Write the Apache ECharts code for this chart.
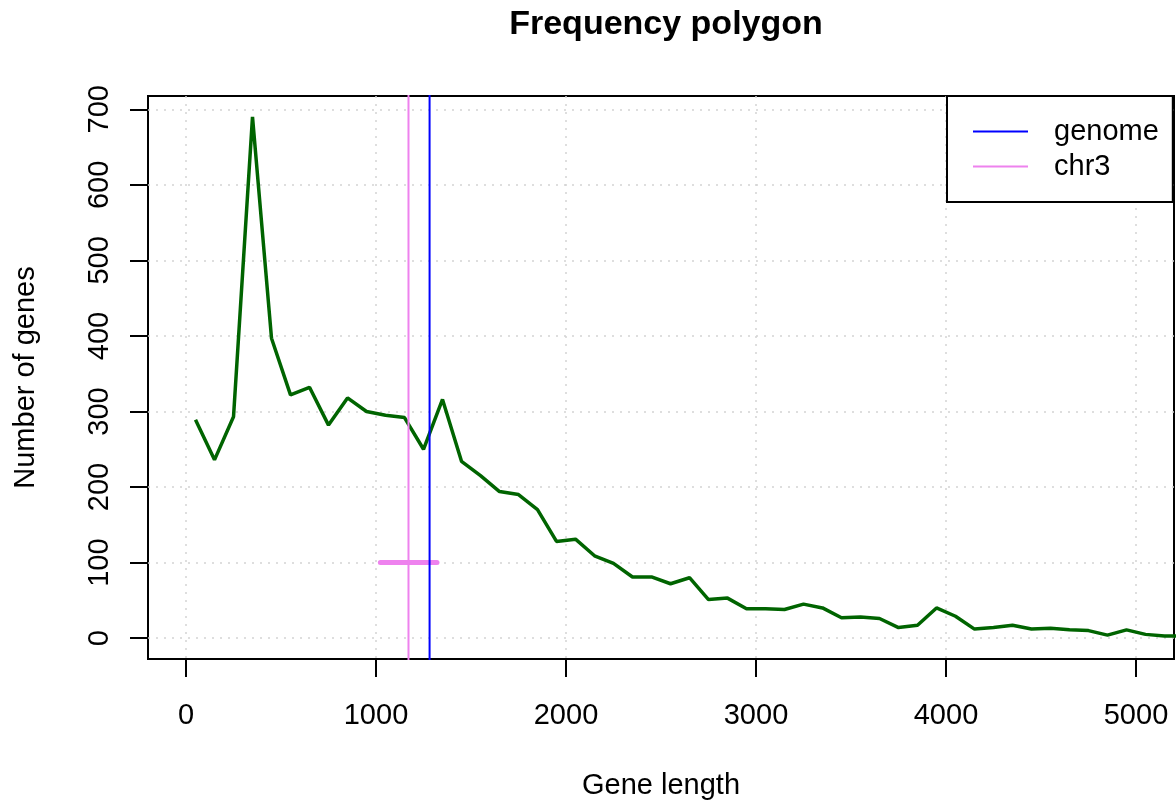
<!DOCTYPE html>
<html>
<head>
<meta charset="utf-8">
<script src="https://cdn.jsdelivr.net/npm/echarts@6/dist/echarts.min.js"></script>
<style>
  html, body { margin: 0; padding: 0; background: #fff; }
  #chart { width: 1176px; height: 801px; }
</style>
</head>
<body>
<div id="chart"></div>
<script>
// bin mid points (gene length) and gene counts
const binMids = [50, 150, 250, 350, 450, 550, 650, 750, 850, 950,
  1050, 1150, 1250, 1350, 1450, 1550, 1650, 1750, 1850, 1950,
  2050, 2150, 2250, 2350, 2450, 2550, 2650, 2750, 2850, 2950,
  3050, 3150, 3250, 3350, 3450, 3550, 3650, 3750, 3850, 3950,
  4050, 4150, 4250, 4350, 4450, 4550, 4650, 4750, 4850, 4950,
  5050, 5150, 5250];
const geneCounts = [289, 236, 293, 690, 397, 322, 332, 282, 318, 300,
  295, 292, 250, 316, 234, 215, 194, 190, 170, 128,
  131, 109, 99, 81, 81, 72, 80, 51, 53, 39,
  39, 38, 45, 40, 27, 28, 26, 14, 17, 40,
  29, 12, 14, 17, 12, 13, 11, 10, 4, 11,
  5, 3, 3];

// reference lines
const genomeMean = 1282;
const chr3Mean = 1171;
const chr3Range = [1023, 1321];
const chr3RangeLevel = 100;

// tick labels
const xTicks = [0, 1000, 2000, 3000, 4000, 5000];
const yTicks = [0, 100, 200, 300, 400, 500, 600, 700];

const FONT = '"Liberation Sans", Arial, Helvetica, sans-serif';
const gridLine = { color: '#d3d3d3', width: 1.5, type: [2, 6] };

const chart = echarts.init(document.getElementById('chart'));

const option = {
    backgroundColor: '#fff',
    animation: false,
    textStyle: { fontFamily: FONT },
    title: {
        text: 'Frequency polygon',
        left: 661, top: 3, textAlign: 'center',
        textStyle: { fontSize: 34, fontWeight: 'bold', color: '#000', fontFamily: FONT }
    },
    grid: {
        left: 148, right: 2, top: 96, bottom: 142,
        outerBoundsMode: 'none', containLabel: false,
        show: true, borderColor: '#000', borderWidth: 2, backgroundColor: 'transparent'
    },
    legend: {
        data: ['genome', 'chr3'],
        orient: 'vertical',
        left: 947, top: 96,
        padding: [18, 14, 18, 26],
        icon: 'rect',
        itemWidth: 55, itemHeight: 2, itemGap: 0,
        backgroundColor: '#fff', borderColor: '#000', borderWidth: 2, borderRadius: 0,
        textStyle: { fontSize: 29, color: '#000', lineHeight: 35, padding: [0, 0, 0, 21], fontFamily: FONT }
    },
    xAxis: {
        type: 'value', min: -200, max: 5200,
        name: 'Gene length', nameLocation: 'middle', nameGap: 112,
        nameTextStyle: { fontSize: 29, color: '#000', fontFamily: FONT },
        axisLine: { show: false, onZero: false },
        axisTick: { show: true, length: 18, customValues: xTicks, lineStyle: { color: '#000', width: 2 } },
        axisLabel: { customValues: xTicks, formatter: v => String(v), fontSize: 29, color: '#000', margin: 42, fontFamily: FONT },
        splitLine: { show: true, lineStyle: gridLine }
    },
    yAxis: {
        type: 'value', min: -27.6, max: 717.6,
        name: 'Number of genes', nameLocation: 'middle', nameGap: 108,
        nameTextStyle: { fontSize: 29, color: '#000', fontFamily: FONT },
        axisLine: { show: false, onZero: false },
        axisTick: { show: true, length: 18, customValues: yTicks, lineStyle: { color: '#000', width: 2 } },
        axisLabel: { customValues: yTicks, formatter: v => String(v), fontSize: 29, color: '#000', margin: 34, rotate: 90, fontFamily: FONT },
        splitLine: { show: true, lineStyle: gridLine }
    },
    series: [
        {
            name: 'freq', type: 'line', symbol: 'none', clip: true,
            data: binMids.map((x, i) => [x, geneCounts[i]]),
            lineStyle: { color: '#006400', width: 3.5 },
            itemStyle: { color: '#006400' },
            z: 3
        },
        {
            name: 'chr3 range', type: 'line', symbol: 'none',
            data: chr3Range.map(x => [x, chr3RangeLevel]),
            lineStyle: { color: '#ee82ee', width: 5, cap: 'round' },
            z: 4
        },
        {
            name: 'genome', type: 'line', symbol: 'none', clip: true,
            data: [[genomeMean, -100], [genomeMean, 900]],
            lineStyle: { color: '#0000ff', width: 2 },
            itemStyle: { color: '#0000ff' },
            z: 5
        },
        {
            name: 'chr3', type: 'line', symbol: 'none', clip: true,
            data: [[chr3Mean, -100], [chr3Mean, 900]],
            lineStyle: { color: '#ee82ee', width: 2 },
            itemStyle: { color: '#ee82ee' },
            z: 5
        }
    ]
};

chart.setOption(option);
</script>
</body>
</html>
